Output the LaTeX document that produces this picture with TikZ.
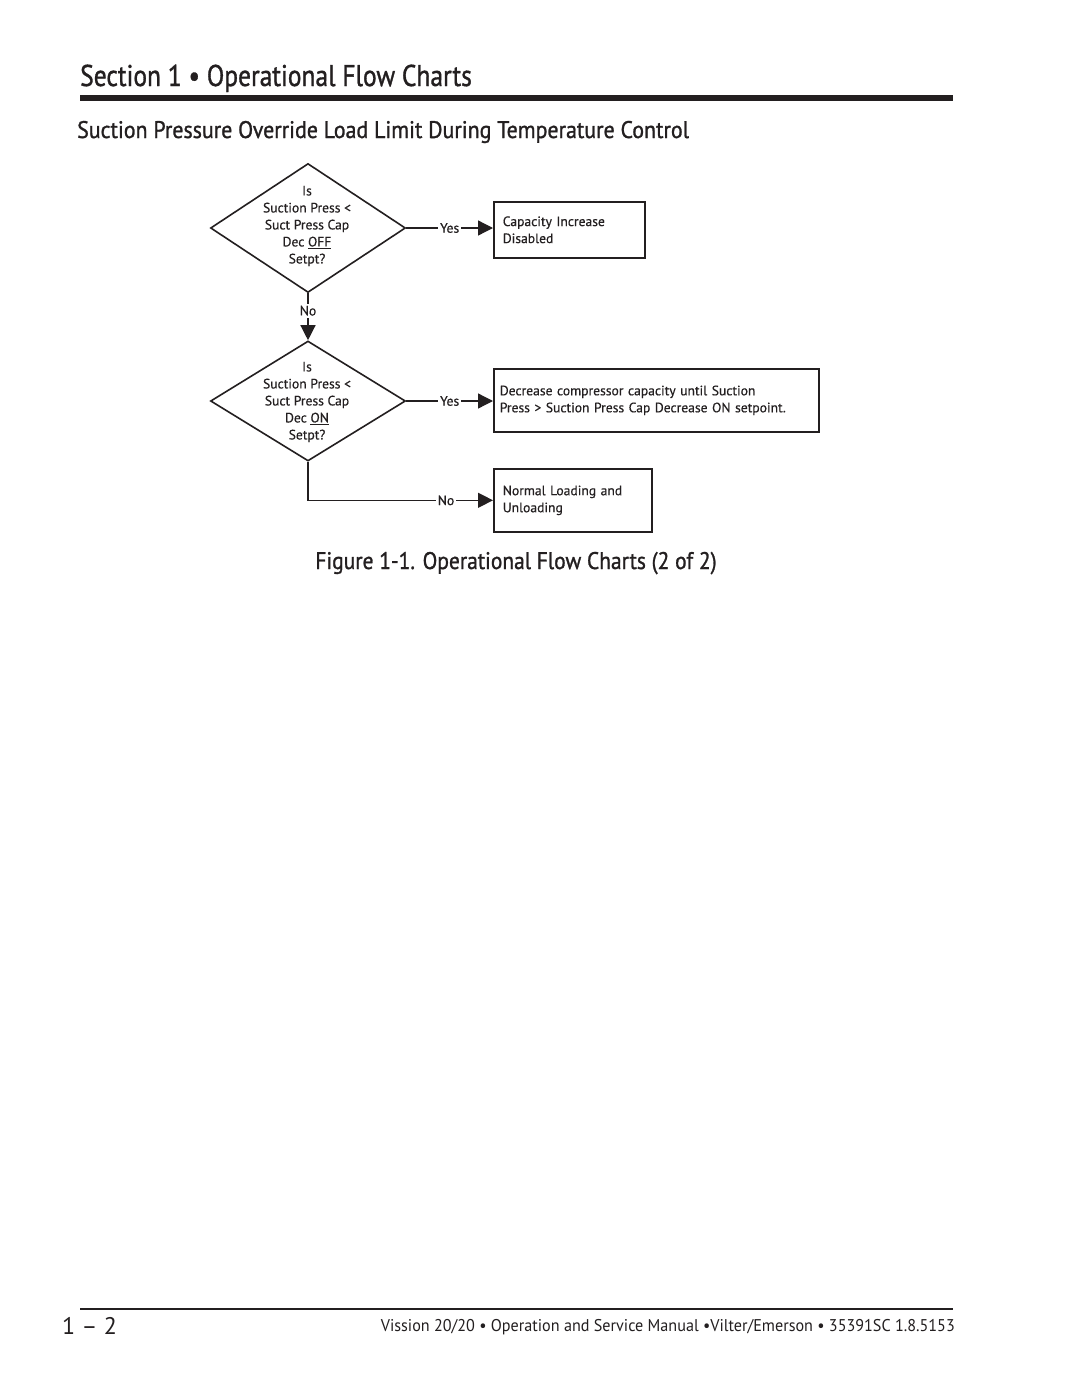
\documentclass[tikz,border=0pt]{standalone}
\usepackage{fontspec}
\setmainfont{PT Sans}
\newfontfamily\headfont[FakeBold=1.2]{PT Sans}
\newfontfamily\chartfont[FakeBold=0.4]{PT Sans}
\usetikzlibrary{shapes.geometric,arrows.meta}
\definecolor{ink}{HTML}{231F20}
\begin{document}
\begin{tikzpicture}[x=1pt,y=-1pt,
  dia/.style={diamond,draw=ink,line width=1.6pt,minimum width=195pt,inner sep=0pt},
  ftext/.style={font=\chartfont\fontsize{13.6}{17}\selectfont,text=ink},
  box/.style={draw=ink,line width=1.6pt,align=left,anchor=north west,inner ysep=0pt,ftext},
  conn/.style={draw=ink,line width=1.3pt,-{Triangle[length=15pt,width=15pt]}},
  lab/.style={fill=white,inner sep=2pt,ftext}]
\fill[white] (0,0) rectangle (1080,1397);
\useasboundingbox (0,0) rectangle (1080,1397);

% header
\node[anchor=base west,inner sep=0pt,text=ink,font=\headfont\fontsize{30}{36}\selectfont] (title) at (80,86) {\scalebox{0.85}[1]{Section 1 • Operational Flow Charts}};
\draw[ink,line width=6pt] (80,98) -- (953,98);
\node[anchor=base west,inner sep=0pt,text=ink,font=\headfont\fontsize{24}{28}\selectfont] (sub) at (77,138) {\scalebox{0.913}[1]{Suction Pressure Override Load Limit During Temperature Control}};

% diamonds
\node[dia,minimum height=129pt] (d1) at (308,228) {};
\node[ftext,align=center,inner sep=0pt] (d1t) at (307,226) {Is\\Suction Press <\\Suct Press Cap\\Dec \underline{OFF}\\Setpt?};
\node[dia,minimum height=120pt] (d2) at (308,401) {};
\node[ftext,align=center,inner sep=0pt] (d2t) at (307,402) {Is\\Suction Press <\\Suct Press Cap\\Dec \underline{ON}\\Setpt?};

% boxes
\node[box,minimum width=151pt,minimum height=56pt,text width=133pt,inner xsep=9pt] (b1) at (493,201) {Capacity Increase\\Disabled};
\node[box,minimum width=325pt,minimum height=63pt,text width=313pt,inner xsep=6pt] (b2) at (493,368) {Decrease compressor capacity until Suction\\Press > Suction Press Cap Decrease ON setpoint.};
\node[box,minimum width=158pt,minimum height=63pt,text width=140pt,inner xsep=9pt] (b3) at (493,468) {Normal Loading and\\Unloading};

% connectors
\draw[conn] (d1.east) -- node[lab] {Yes} (d1.east -| b1.west);
\draw[conn] (d1.south) -- node[lab,pos=0.37] {No} (d2.north);
\draw[conn] (d2.east) -- node[lab] {Yes} (d2.east -| b2.west);
\draw[conn] (d2.south) |- node[lab,pos=0.873] {No} (b3.west);

% caption
\node[anchor=base,inner sep=0pt,text=ink,font=\headfont\fontsize{24}{28}\selectfont] (cap) at (516,569) {\scalebox{0.895}[1]{Figure 1-1. Operational Flow Charts (2 of 2)}};

% footer
\draw[ink,line width=1.5pt] (80,1309) -- (953,1309);
\node[anchor=base west,inner sep=0pt,text=ink,font=\fontsize{24}{28}\selectfont] (pg) at (62,1334) {1 – 2};
\node[anchor=base east,inner sep=0pt,text=ink,font=\fontsize{17}{20}\selectfont] (foot) at (955,1331) {\scalebox{0.95}[1]{Vission 20/20 • Operation and Service Manual •Vilter/Emerson • 35391SC 1.8.5153}};
\end{tikzpicture}
\end{document}
